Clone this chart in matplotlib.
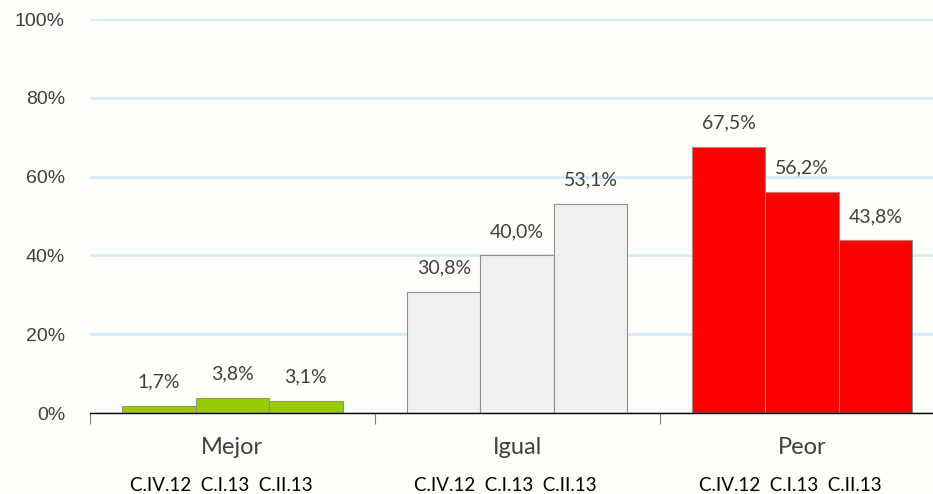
import numpy as np
import matplotlib
matplotlib.use("Agg")
import matplotlib.pyplot as plt

categories = ["Mejor", "Igual", "Peor"]
periods = ["C.IV.12", "C.I.13", "C.II.13"]
values = {
    "Mejor": [1.7, 3.8, 3.1],
    "Igual": [30.8, 40.0, 53.1],
    "Peor": [67.5, 56.2, 43.8],
}
colors = {"Mejor": "#99cc00", "Igual": "#f0f0f0", "Peor": "#ff0000"}
yticks = [0, 20, 40, 60, 80, 100]

bg = "#fcfefa"
fig = plt.figure(figsize=(9.33, 4.94), dpi=100, facecolor=bg)
ax = fig.add_axes([90 / 933, 81 / 494, 843 / 933, 394 / 494], facecolor=bg)

w = 0.258
x = np.arange(len(categories))
for i, cat in enumerate(categories):
    for j, v in enumerate(values[cat]):
        xc = x[i] + (j - 1) * w
        ax.bar(xc, v, width=w, color=colors[cat], edgecolor="#909090",
               linewidth=0.8, zorder=3)
        # data label above each bar
        ax.annotate(f"{v:.1f}%".replace(".", ","), (xc, v), xytext=(0, 24),
                    textcoords="offset pixels", ha="center", va="center",
                    fontsize=14, family="Lato", color="#404040")
    ax.text(x[i], -8.8, cat, ha="center", va="center", fontsize=17,
            family="Lato", color="#404040")
    ax.text(x[i] - 0.04, -18.4, "  ".join(periods), ha="center", va="center",
            fontsize=13.5, family="Lato", color="#000000")

ax.set_xlim(-0.5, 2.46)
ax.set_ylim(0, 100)
ax.set_yticks(yticks)
ax.set_yticklabels([f"{t}%" for t in yticks], family="Liberation Sans",
                   fontsize=14, color="#404040")
ax.tick_params(axis="y", length=0, pad=18)
ax.set_xticks([-0.5, 0.5, 1.5])
ax.set_xticklabels([])
ax.tick_params(axis="x", length=8, color="#808080", direction="out")
ax.grid(axis="y", color="#d6eaf5", linewidth=2, zorder=0)
for s in ["top", "right", "left"]:
    ax.spines[s].set_visible(False)
ax.spines["bottom"].set_color("black")
ax.spines["bottom"].set_linewidth(1)
ax.spines["bottom"].set_zorder(4)

fig.savefig("out.png", dpi=100, facecolor=bg)
